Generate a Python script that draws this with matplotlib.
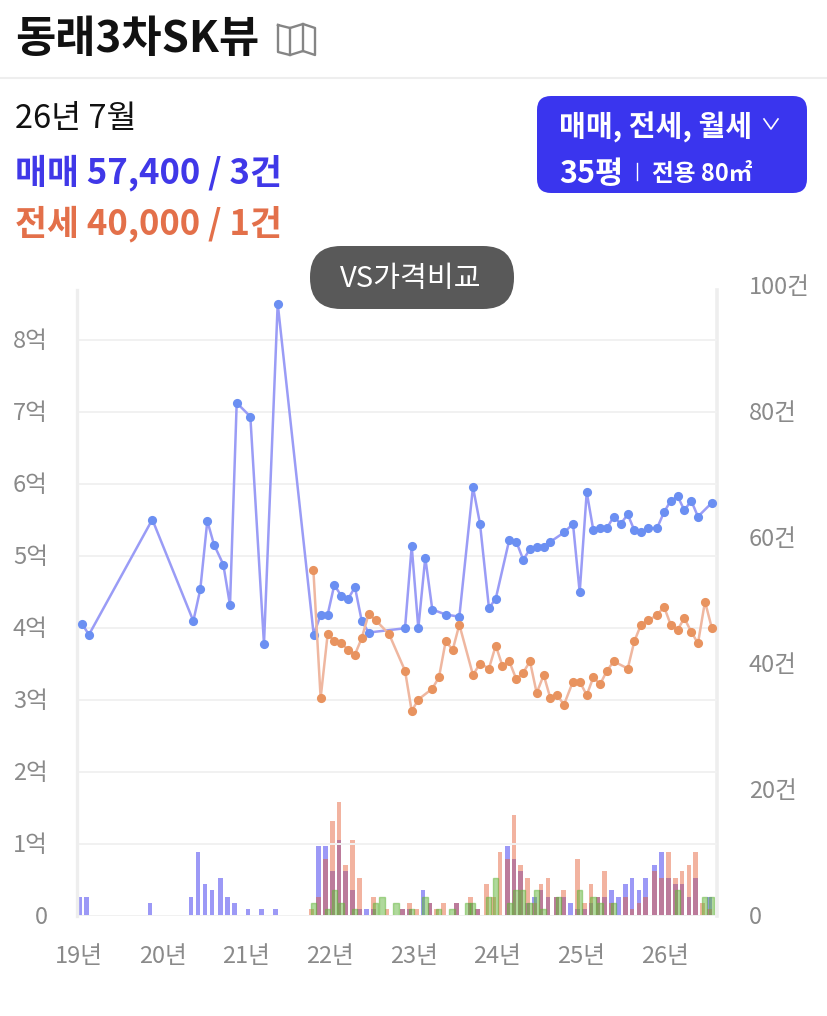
import matplotlib
matplotlib.use("Agg")
import matplotlib.pyplot as plt
from matplotlib.patches import FancyBboxPatch

plt.rcParams['font.family'] = ['Noto Sans CJK KR', 'DejaVu Sans']

# --- data (x in years since 2019, prices in 억, counts in 건) ---
sale_x = [.036,.119,.876,1.366,1.449,1.533,1.613,1.724,1.804,1.884,2.047,2.210,2.374,2.804,2.888,2.971,3.050,3.134,3.217,3.297,3.378,3.461,3.895,3.975,4.054,4.137,4.221,4.381,4.544,4.707,4.791,4.898,4.979,5.141,5.225,5.308,5.388,5.468,5.552,5.631,5.795,5.902,5.982,6.066,6.145,6.225,6.308,6.388,6.472,6.556,6.635,6.715,6.798,6.906,6.989,7.069,7.153,7.232,7.315,7.395,7.559]
sale_y = [4.05,3.90,5.50,4.09,4.53,5.48,5.15,4.875,4.31,7.12,6.93,3.77,8.50,3.90,4.18,4.18,4.59,4.44,4.40,4.56,4.09,3.93,3.99,5.13,3.99,4.97,4.25,4.18,4.15,5.95,5.44,4.27,4.40,5.22,5.19,4.94,5.09,5.125,5.125,5.19,5.32,5.44,4.49,5.88,5.35,5.38,5.38,5.54,5.44,5.57,5.35,5.32,5.38,5.38,5.60,5.76,5.82,5.63,5.76,5.54,5.73]
rent_x = [2.800,2.887,2.971,3.051,3.134,3.218,3.297,3.377,3.461,3.545,3.704,3.895,3.975,4.054,4.221,4.301,4.381,4.465,4.544,4.707,4.791,4.898,4.979,5.058,5.141,5.225,5.308,5.388,5.468,5.552,5.631,5.711,5.795,5.902,5.982,6.066,6.145,6.225,6.308,6.388,6.556,6.635,6.715,6.798,6.906,6.989,7.069,7.153,7.232,7.315,7.395,7.479,7.559]
rent_y = [4.80,3.02,3.91,3.81,3.78,3.69,3.625,3.85,4.19,4.10,3.91,3.40,2.84,3.00,3.15,3.31,3.81,3.69,4.04,3.34,3.50,3.43,3.75,3.47,3.53,3.28,3.375,3.53,3.09,3.34,3.02,3.06,2.93,3.25,3.25,3.06,3.31,3.21,3.40,3.53,3.43,3.81,4.04,4.10,4.17,4.29,4.04,3.97,4.13,3.94,3.78,4.36,4.00]

early_bar_x = [.004,.092,.848,1.338,1.421,1.505,1.589,1.693,1.776,1.860,2.019,2.183,2.345]
early_sale_n = [3,3,2,3,10,5,4,6,3,2,1,1,1]

bar_x = [2.780,2.859,2.943,3.026,3.106,3.186,3.270,3.349,3.432,3.516,3.596,3.680,3.763,3.867,3.946,4.035,4.110,4.194,4.274,4.352,4.432,4.513,4.620,4.680,4.759,4.871,4.950,5.030,5.117,5.197,5.277,5.356,5.440,5.520,5.603,5.707,5.786,5.875,5.958,6.037,6.117,6.201,6.281,6.364,6.443,6.527,6.607,6.691,6.771,6.878,6.962,7.041,7.125,7.205,7.288,7.368,7.452,7.530]
sale_n = [0,11,11,7,12,7,4,1,1,1,0,0,0,1,1,0,4,2,0,0,0,2,0,2,1,0,0,0,11,9,7,2,3,4,3,3,3,2,1,1,2,3,3,4,3,5,6,4,6,8,10,6,5,5,3,6,0,3]
rent_n = [1,3,9,15,18,8,12,6,0,3,0,1,0,1,2,1,0,2,1,2,0,2,0,3,1,5,3,10,9,16,8,6,2,5,6,3,4,0,9,2,5,3,7,2,0,3,1,2,3,7,6,10,6,7,8,10,2,1]
wolse_n = [2,0,1,4,2,0,1,0,0,2,3,0,2,0,1,0,3,0,1,0,1,0,2,2,0,3,6,0,2,4,4,2,4,1,0,3,0,0,4,0,3,2,0,2,0,0,0,0,0,0,0,0,4,0,0,0,3,3]

year_labels = ['19년','20년','21년','22년','23년','24년','25년','26년']
price_labels = ['0','1억','2억','3억','4억','5억','6억','7억','8억']
count_labels = ['0','20건','40건','60건','80건','100건']

W, H = 827, 1016
fig = plt.figure(figsize=(W/100, H/100), dpi=100, facecolor='white')

L, R, T, B = 77, 717, 285, 915.5
ax2 = fig.add_axes([L/W, 1-B/H, (R-L)/W, (B-T)/H], zorder=1)
ax = fig.add_axes([L/W, 1-B/H, (R-L)/W, (B-T)/H], zorder=2, sharex=ax2)
ax.patch.set_visible(False)

bw = 4.6/83.7
ax2.bar(early_bar_x, early_sale_n, width=bw, color='#3a35ee', alpha=.5, lw=0)
ax2.bar(bar_x, sale_n, width=bw, color='#3a35ee', alpha=.5, lw=0)
ax2.bar(bar_x, rent_n, width=bw, color='#e4572e', alpha=.45, lw=0)
ax2.bar([x+.025 for x in bar_x], wolse_n, width=bw*1.15, color='#62b53a', alpha=.5,
        edgecolor='#62b53a', lw=1.0)

ax.plot(sale_x, sale_y, color='#9a9cf6', lw=1.8, zorder=3)
ax.plot(sale_x, sale_y, ls='none', marker='o', ms=6.6, mfc='#6b8ff2', mec='#6b8ff2', mew=0, zorder=4)
ax.plot(rent_x, rent_y, color='#efb7a0', lw=1.8, zorder=5)
ax.plot(rent_x, rent_y, ls='none', marker='o', ms=6.6, mfc='#e8935f', mec='#e8935f', mew=0, zorder=6)

ax.set_xlim(-2/83.7, (R-79)/83.7)
ymax = (B-T)/72
ax.set_ylim(0, ymax)
ax2.set_ylim(0, 100)
top_price = (B-290)/72
top_count = (B-290)/6.305

ax.set_yticks(range(9), price_labels)
ax2.set_yticks(range(0, 101, 20), count_labels)
ax2.yaxis.tick_right()
ax2.set_xticks(range(8), year_labels)
ax.tick_params(axis='x', labelbottom=False, length=0)
ax2.tick_params(axis='x', length=0, pad=21.5, labelsize=17, labelcolor='#8a8a8a')
ax.tick_params(axis='y', length=0, pad=21, labelsize=17, labelcolor='#8a8a8a')
ax2.tick_params(axis='y', length=0, pad=23, labelsize=17, labelcolor='#8a8a8a')
ax.grid(axis='y', color='#f1f1f1', lw=1.4, zorder=0)
ax.set_axisbelow(True)

for a in (ax, ax2):
    a.spines['top'].set_visible(False)
    a.spines['bottom'].set_visible(False)
ax.spines['right'].set_visible(False)
ax2.spines['left'].set_visible(False)
ax.spines['left'].set_color('#eeeeee')
ax.spines['left'].set_linewidth(2.4)
ax.spines['left'].set_bounds(0, top_price)
ax2.spines['right'].set_color('#eeeeee')
ax2.spines['right'].set_linewidth(2.6)
ax2.spines['right'].set_bounds(0, top_count)

# page furniture, in pixel coordinates
ov = fig.add_axes([0, 0, 1, 1], zorder=5)
ov.set_xlim(0, W)
ov.set_ylim(H, 0)
ov.axis('off')

ov.text(15, 39, '동래3차SK뷰', fontsize=31.5, color='#111111', va='center', ha='left', fontweight='bold')
# map icon
ov.plot([278, 278, 290, 303, 315, 315, 303, 290, 278], [25, 52, 55, 51, 55, 28, 24, 28, 25],
        color='#858585', lw=1.7)
ov.plot([290, 290], [28, 55], color='#858585', lw=1.7)
ov.plot([303, 303], [24, 51], color='#858585', lw=1.7)
ov.plot([0, W], [78, 78], color='#eeeeee', lw=1.5)

ov.text(15, 119, '26년 7월', fontsize=23.5, color='#111111', va='center')
ov.text(15, 173, '매매 57,400 / 3건', fontsize=25, color='#4038e8', va='center', fontweight='bold')
ov.text(15, 224, '전세 40,000 / 1건', fontsize=25, color='#e3704a', va='center', fontweight='bold')

ov.add_patch(FancyBboxPatch((547, 106), 250, 77, boxstyle='round,pad=10,rounding_size=14',
                            fc='#3a35ee', ec='none'))
ov.text(559, 127, '매매, 전세, 월세', fontsize=21, color='white', va='center', fontweight='bold')
ov.plot([764, 771, 778], [119, 129, 119], color='white', lw=1.2)
ov.text(559, 174, '35평', fontsize=22, color='white', va='center', fontweight='bold')
ov.plot([637, 637], [163, 180], color='white', lw=1)
ov.text(652, 174, '전용 80㎡', fontsize=17, color='white', va='center', fontweight='bold')

ov.add_patch(FancyBboxPatch((341, 277), 142, 1, boxstyle='round,pad=31,rounding_size=31',
                            fc='#595959', ec='none'))
ov.text(411, 279, 'VS가격비교', fontsize=21, color='white', va='center', ha='center')

fig.savefig('out.png', dpi=100)
